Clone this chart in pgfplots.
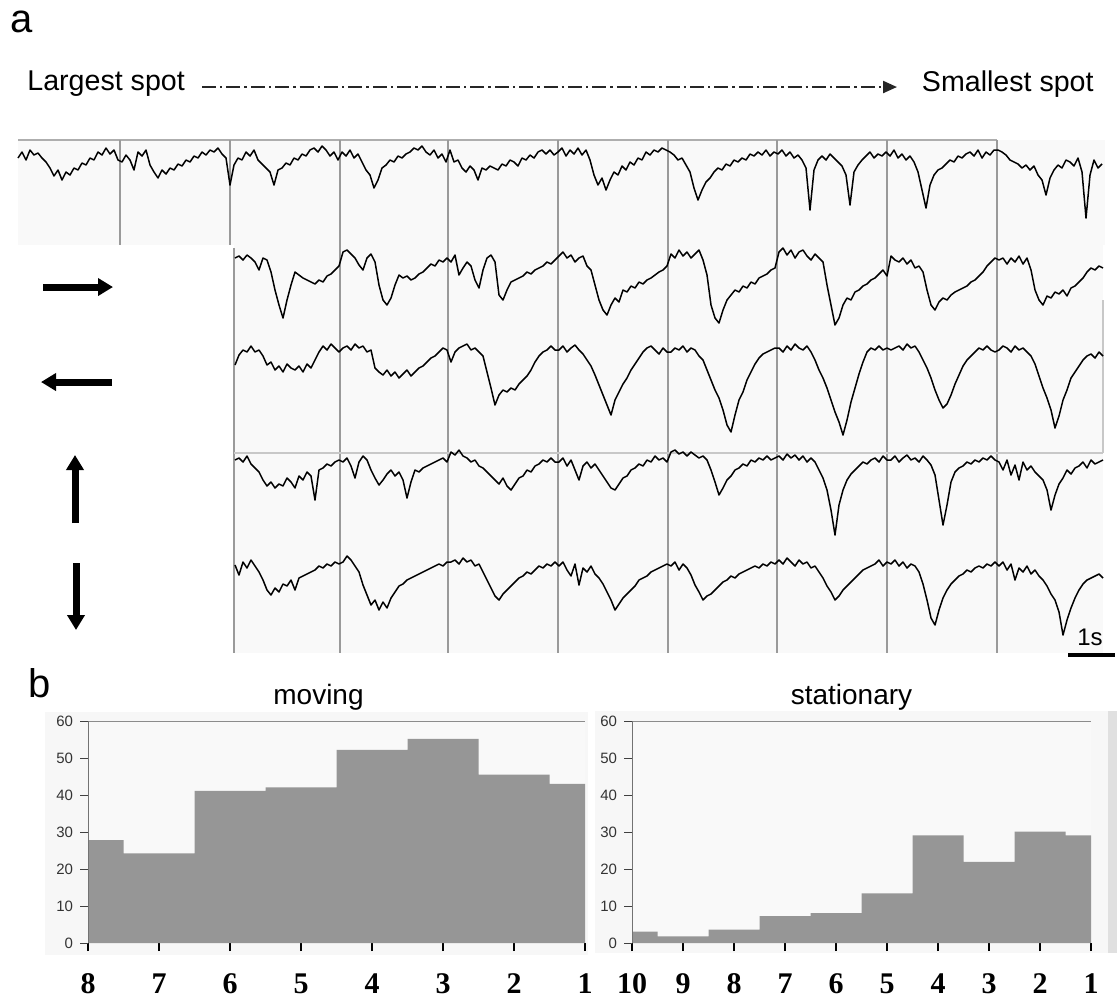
\documentclass[border=0pt]{standalone}
\usepackage{pgfplots}
\pgfplotsset{compat=1.18}
\usepackage{fontspec}
\setmainfont{Liberation Sans}
\newfontfamily\timesfont{Liberation Serif}
\usetikzlibrary{arrows.meta}

\definecolor{panelbg}{HTML}{F9F9F9}
\definecolor{gridgrey}{HTML}{9A9A9A}
\definecolor{lightline}{HTML}{C8C8C8}
\definecolor{barfill}{HTML}{969696}
\definecolor{boxbg}{HTML}{F7F7F7}

\pgfplotsset{
  trace/.style={black, line width=0.75pt, mark=none, line join=round},
  hist/.style={
    scale only axis, height=111pt, ymin=0, ymax=60,
    ytick={0,10,...,60},
    axis background/.style={fill=panelbg},
    axis line style={draw=none},
    tick align=outside, xtick pos=bottom, ytick pos=left,
    major tick length=4pt,
    ytick style={draw=black!75, line width=0.5pt},
    xtick style={draw=black, line width=0.7pt},
    yticklabel style={font=\fontsize{7.5}{8}\selectfont, text=black!80},
    /pgf/number format/assume math mode=true,
    xticklabel style={font=\timesfont\bfseries\fontsize{15}{15}\selectfont, inner sep=0pt, anchor=north, yshift=-11pt},
    title style={font=\fontsize{14}{16}\selectfont, yshift=-4pt},
  },
}

\begin{document}
\begin{tikzpicture}
\useasboundingbox (0,0) rectangle (558.5pt,-501pt);

% ---------- panel a: response traces (pixel grid, y downwards) ----------
\begin{axis}[at={(0,0)}, anchor=north west, scale only axis,
  width=558.5pt, height=501pt, xmin=0, xmax=1117, ymin=0, ymax=1002,
  y dir=reverse, hide axis, clip=false]

% panel backgrounds and separators
\fill[panelbg] (18,140) rectangle (1105,245);
\fill[panelbg] (234,245) rectangle (1103,653);
\fill[boxbg] (45,712) rectangle (588,955);
\fill[boxbg] (595,711) rectangle (1108,953);
\fill[black!12] (1108,711) rectangle (1117,953);
\draw[gridgrey!80, line width=0.6pt] (18,140) -- (997,140);
\draw[gridgrey, line width=0.75pt] (120,140) -- (120,245);
\draw[gridgrey, line width=0.75pt] (230,140) -- (230,245);
\draw[gridgrey, line width=0.75pt] (340,140) -- (340,653);
\draw[gridgrey, line width=0.75pt] (448,140) -- (448,653);
\draw[gridgrey, line width=0.75pt] (558,140) -- (558,653);
\draw[gridgrey, line width=0.75pt] (668,140) -- (668,653);
\draw[gridgrey, line width=0.75pt] (777,140) -- (777,653);
\draw[gridgrey, line width=0.75pt] (887,140) -- (887,653);
\draw[gridgrey, line width=0.75pt] (997,140) -- (997,653);
\draw[gridgrey, line width=0.6pt] (234,248) -- (234,653);
\draw[lightline, line width=0.6pt] (234,453) -- (1103,453);
\draw[lightline, line width=0.6pt] (1103,300) -- (1103,453);

% row 1: spot size series, largest to smallest
\addplot[trace] table[row sep=\\, x expr=18+4*\coordindex, y index=0] {y\\
158\\ 152\\ 160\\ 150\\ 155\\ 153\\ 158\\ 162\\ 168\\ 176\\ 170\\ 180\\ 172\\ 175\\ 168\\ 170\\ 163\\ 165\\ 158\\ 160\\ 152\\ 155\\ 148\\ 154\\ 150\\ 160\\
162\\ 155\\ 160\\ 170\\ 152\\ 156\\ 150\\ 165\\ 172\\ 178\\ 170\\ 174\\ 168\\ 170\\ 164\\ 166\\ 160\\ 162\\ 156\\ 158\\ 152\\ 155\\ 150\\ 152\\ 148\\ 154\\ 158\\
185\\ 165\\ 158\\ 160\\ 152\\ 156\\ 150\\ 160\\ 164\\ 168\\ 172\\ 185\\ 170\\ 168\\ 163\\ 165\\ 158\\ 160\\ 154\\ 156\\ 150\\ 148\\ 152\\ 146\\ 150\\ 156\\ 152\\ 160\\
152\\ 156\\ 150\\ 158\\ 154\\ 162\\ 170\\ 175\\ 188\\ 180\\ 168\\ 165\\ 160\\ 162\\ 156\\ 158\\ 154\\ 152\\ 148\\ 150\\ 146\\ 152\\ 155\\ 150\\ 158\\ 154\\ 162\\
150\\ 162\\ 160\\ 168\\ 172\\ 166\\ 170\\ 180\\ 168\\ 170\\ 166\\ 168\\ 170\\ 164\\ 166\\ 160\\ 162\\ 166\\ 158\\ 160\\ 155\\ 158\\ 152\\ 150\\ 154\\ 150\\ 155\\
152\\ 148\\ 156\\ 150\\ 154\\ 148\\ 155\\ 150\\ 160\\ 175\\ 185\\ 178\\ 190\\ 180\\ 172\\ 175\\ 166\\ 170\\ 162\\ 165\\ 158\\ 160\\ 152\\ 155\\ 150\\ 152\\ 148\\ 150\\
152\\ 155\\ 160\\ 158\\ 165\\ 172\\ 188\\ 200\\ 190\\ 182\\ 178\\ 172\\ 168\\ 170\\ 164\\ 166\\ 160\\ 162\\ 158\\ 160\\ 154\\ 156\\ 152\\ 155\\ 150\\ 156\\ 152\\
154\\ 150\\ 156\\ 152\\ 158\\ 155\\ 160\\ 168\\ 210\\ 170\\ 160\\ 156\\ 160\\ 154\\ 158\\ 162\\ 166\\ 175\\ 205\\ 172\\ 165\\ 160\\ 156\\ 152\\ 158\\ 154\\ 156\\ 152\\
156\\ 150\\ 158\\ 154\\ 160\\ 156\\ 162\\ 172\\ 190\\ 208\\ 185\\ 175\\ 170\\ 168\\ 164\\ 160\\ 162\\ 156\\ 158\\ 154\\ 152\\ 156\\ 150\\ 158\\ 152\\ 155\\ 150\\
150\\ 152\\ 155\\ 160\\ 162\\ 164\\ 168\\ 165\\ 170\\ 166\\ 175\\ 180\\ 195\\ 178\\ 170\\ 165\\ 168\\ 160\\ 162\\ 166\\ 158\\ 172\\ 218\\ 175\\ 160\\ 168\\ 164\\
};

% row 2: rightward motion
\addplot[trace] table[row sep=\\, x expr=235+4*\coordindex, y index=0] {y\\
258\\ 256\\ 260\\ 255\\ 258\\ 262\\ 270\\ 258\\ 260\\ 272\\ 290\\ 305\\ 318\\ 300\\ 285\\ 272\\ 275\\ 278\\ 280\\ 282\\ 284\\ 280\\ 282\\ 276\\ 274\\ 270\\ 266\\
252\\ 250\\ 254\\ 258\\ 265\\ 270\\ 258\\ 254\\ 262\\ 285\\ 300\\ 305\\ 298\\ 285\\ 275\\ 278\\ 276\\ 280\\ 278\\ 274\\ 272\\ 268\\ 264\\ 266\\ 260\\ 262\\ 258\\
262\\ 255\\ 275\\ 268\\ 262\\ 266\\ 280\\ 288\\ 270\\ 258\\ 255\\ 262\\ 295\\ 300\\ 290\\ 282\\ 280\\ 278\\ 276\\ 272\\ 274\\ 270\\ 268\\ 266\\ 262\\ 264\\ 260\\
256\\ 252\\ 258\\ 255\\ 262\\ 258\\ 256\\ 266\\ 270\\ 285\\ 300\\ 310\\ 315\\ 305\\ 298\\ 302\\ 290\\ 292\\ 286\\ 288\\ 282\\ 284\\ 280\\ 278\\ 275\\ 272\\ 270\\ 266\\
254\\ 258\\ 250\\ 256\\ 252\\ 258\\ 254\\ 250\\ 260\\ 275\\ 305\\ 318\\ 323\\ 310\\ 300\\ 295\\ 290\\ 292\\ 286\\ 288\\ 282\\ 284\\ 278\\ 276\\ 274\\ 270\\ 268\\
252\\ 248\\ 255\\ 250\\ 258\\ 252\\ 250\\ 256\\ 260\\ 254\\ 258\\ 262\\ 285\\ 305\\ 325\\ 318\\ 305\\ 298\\ 300\\ 292\\ 290\\ 286\\ 284\\ 280\\ 278\\ 274\\ 270\\ 276\\
256\\ 260\\ 262\\ 258\\ 264\\ 260\\ 268\\ 266\\ 272\\ 290\\ 305\\ 310\\ 302\\ 298\\ 300\\ 295\\ 292\\ 290\\ 288\\ 286\\ 282\\ 280\\ 276\\ 272\\ 266\\ 262\\ 258\\
260\\ 258\\ 264\\ 258\\ 262\\ 256\\ 264\\ 258\\ 270\\ 290\\ 300\\ 305\\ 296\\ 298\\ 292\\ 294\\ 290\\ 296\\ 288\\ 286\\ 282\\ 278\\ 272\\ 268\\ 270\\ 266\\ 268\\
};

% row 3: leftward motion
\addplot[trace] table[row sep=\\, x expr=235+4*\coordindex, y index=0] {y\\
365\\ 355\\ 350\\ 352\\ 346\\ 352\\ 350\\ 356\\ 365\\ 362\\ 370\\ 366\\ 372\\ 364\\ 368\\ 370\\ 366\\ 372\\ 364\\ 368\\ 360\\ 352\\ 346\\ 350\\ 344\\ 348\\ 352\\
348\\ 346\\ 350\\ 344\\ 348\\ 346\\ 352\\ 350\\ 368\\ 372\\ 375\\ 370\\ 376\\ 372\\ 378\\ 374\\ 370\\ 376\\ 372\\ 368\\ 366\\ 362\\ 358\\ 356\\ 352\\ 348\\ 350\\
362\\ 352\\ 348\\ 346\\ 344\\ 350\\ 348\\ 352\\ 356\\ 372\\ 388\\ 405\\ 395\\ 390\\ 392\\ 388\\ 390\\ 384\\ 380\\ 376\\ 370\\ 362\\ 356\\ 352\\ 350\\ 346\\ 350\\
350\\ 346\\ 352\\ 348\\ 345\\ 350\\ 354\\ 360\\ 366\\ 375\\ 385\\ 395\\ 405\\ 415\\ 400\\ 392\\ 384\\ 378\\ 370\\ 364\\ 358\\ 352\\ 348\\ 346\\ 350\\ 354\\ 348\\ 352\\
352\\ 348\\ 350\\ 346\\ 352\\ 348\\ 350\\ 356\\ 360\\ 370\\ 380\\ 390\\ 398\\ 410\\ 425\\ 432\\ 415\\ 400\\ 392\\ 380\\ 372\\ 364\\ 358\\ 354\\ 352\\ 350\\ 348\\
348\\ 352\\ 346\\ 350\\ 344\\ 348\\ 350\\ 346\\ 352\\ 360\\ 370\\ 378\\ 388\\ 400\\ 412\\ 422\\ 435\\ 420\\ 402\\ 388\\ 374\\ 362\\ 352\\ 348\\ 350\\ 346\\ 350\\ 348\\
350\\ 348\\ 346\\ 350\\ 344\\ 348\\ 346\\ 352\\ 360\\ 368\\ 378\\ 390\\ 400\\ 408\\ 404\\ 395\\ 384\\ 375\\ 366\\ 360\\ 356\\ 352\\ 348\\ 350\\ 346\\ 350\\ 352\\
350\\ 346\\ 348\\ 352\\ 346\\ 350\\ 348\\ 352\\ 356\\ 364\\ 376\\ 388\\ 398\\ 410\\ 428\\ 416\\ 400\\ 390\\ 378\\ 372\\ 366\\ 360\\ 356\\ 354\\ 358\\ 352\\ 356\\
};

% row 4: upward motion
\addplot[trace] table[row sep=\\, x expr=235+4*\coordindex, y index=0] {y\\
460\\ 458\\ 462\\ 456\\ 464\\ 468\\ 472\\ 480\\ 486\\ 482\\ 488\\ 484\\ 486\\ 478\\ 482\\ 488\\ 476\\ 480\\ 472\\ 476\\ 500\\ 470\\ 468\\ 464\\ 466\\ 462\\ 460\\
462\\ 458\\ 466\\ 478\\ 462\\ 456\\ 460\\ 470\\ 478\\ 485\\ 480\\ 474\\ 470\\ 476\\ 472\\ 480\\ 498\\ 482\\ 470\\ 472\\ 468\\ 466\\ 464\\ 462\\ 460\\ 458\\ 462\\
452\\ 455\\ 450\\ 456\\ 458\\ 462\\ 460\\ 466\\ 468\\ 472\\ 476\\ 480\\ 484\\ 478\\ 486\\ 490\\ 484\\ 478\\ 476\\ 470\\ 472\\ 466\\ 464\\ 460\\ 462\\ 458\\ 462\\
462\\ 458\\ 466\\ 460\\ 470\\ 480\\ 466\\ 462\\ 468\\ 464\\ 470\\ 476\\ 482\\ 488\\ 490\\ 484\\ 478\\ 476\\ 470\\ 468\\ 464\\ 466\\ 460\\ 462\\ 456\\ 460\\ 458\\ 462\\
452\\ 450\\ 454\\ 452\\ 456\\ 452\\ 455\\ 458\\ 456\\ 460\\ 470\\ 482\\ 495\\ 488\\ 480\\ 476\\ 470\\ 468\\ 464\\ 466\\ 460\\ 462\\ 458\\ 460\\ 456\\ 460\\ 458\\
456\\ 460\\ 454\\ 458\\ 455\\ 460\\ 456\\ 462\\ 458\\ 462\\ 470\\ 478\\ 490\\ 510\\ 535\\ 505\\ 490\\ 480\\ 474\\ 470\\ 466\\ 462\\ 464\\ 460\\ 458\\ 462\\ 456\\ 460\\
460\\ 456\\ 462\\ 458\\ 455\\ 460\\ 458\\ 462\\ 456\\ 460\\ 465\\ 475\\ 500\\ 525\\ 505\\ 482\\ 472\\ 468\\ 466\\ 462\\ 464\\ 460\\ 462\\ 458\\ 460\\ 456\\ 460\\
462\\ 470\\ 460\\ 475\\ 465\\ 480\\ 462\\ 470\\ 466\\ 472\\ 476\\ 480\\ 490\\ 510\\ 495\\ 484\\ 478\\ 470\\ 474\\ 468\\ 466\\ 462\\ 468\\ 460\\ 464\\ 462\\ 460\\
};

% row 5: downward motion
\addplot[trace] table[row sep=\\, x expr=235+4*\coordindex, y index=0] {y\\
565\\ 575\\ 562\\ 568\\ 560\\ 566\\ 572\\ 580\\ 590\\ 595\\ 588\\ 592\\ 584\\ 586\\ 580\\ 590\\ 578\\ 576\\ 574\\ 572\\ 570\\ 566\\ 568\\ 564\\ 566\\ 562\\ 564\\
562\\ 556\\ 560\\ 566\\ 572\\ 585\\ 595\\ 605\\ 600\\ 610\\ 602\\ 608\\ 598\\ 592\\ 586\\ 584\\ 580\\ 578\\ 576\\ 574\\ 572\\ 570\\ 568\\ 566\\ 564\\ 566\\ 562\\
562\\ 560\\ 564\\ 558\\ 562\\ 560\\ 566\\ 564\\ 572\\ 580\\ 588\\ 596\\ 600\\ 594\\ 590\\ 586\\ 582\\ 578\\ 576\\ 572\\ 574\\ 570\\ 566\\ 568\\ 564\\ 566\\ 562\\
566\\ 562\\ 570\\ 576\\ 564\\ 585\\ 568\\ 572\\ 566\\ 574\\ 578\\ 584\\ 592\\ 600\\ 610\\ 604\\ 598\\ 594\\ 590\\ 586\\ 580\\ 578\\ 576\\ 572\\ 570\\ 568\\ 566\\ 564\\
566\\ 562\\ 570\\ 564\\ 568\\ 575\\ 585\\ 592\\ 600\\ 596\\ 594\\ 590\\ 586\\ 582\\ 580\\ 576\\ 578\\ 574\\ 572\\ 570\\ 568\\ 566\\ 568\\ 564\\ 566\\ 562\\ 564\\
560\\ 564\\ 558\\ 562\\ 566\\ 560\\ 564\\ 562\\ 568\\ 566\\ 572\\ 578\\ 586\\ 592\\ 600\\ 596\\ 590\\ 586\\ 582\\ 578\\ 574\\ 570\\ 568\\ 566\\ 564\\ 560\\ 566\\ 562\\
564\\ 560\\ 566\\ 562\\ 568\\ 564\\ 566\\ 572\\ 584\\ 600\\ 618\\ 625\\ 610\\ 598\\ 590\\ 584\\ 580\\ 576\\ 574\\ 570\\ 572\\ 568\\ 566\\ 568\\ 564\\ 566\\ 562\\
566\\ 562\\ 570\\ 564\\ 580\\ 568\\ 572\\ 566\\ 574\\ 570\\ 576\\ 580\\ 586\\ 594\\ 600\\ 612\\ 635\\ 620\\ 608\\ 598\\ 590\\ 584\\ 580\\ 578\\ 576\\ 574\\ 578\\
};

% labels, direction arrows and scale bar
\node[font=\fontsize{20}{22}\selectfont, inner sep=0pt] at (22,22) {a};
\node[font=\fontsize{14.3}{16}\selectfont, anchor=west, inner sep=0pt] at (27,84) {Largest spot};
\node[font=\fontsize{14.3}{16}\selectfont, anchor=east, inner sep=0pt] at (1094,84) {Smallest spot};
\draw[black!85, line width=1.1pt, dash pattern=on 7pt off 2pt on 1.2pt off 2pt,
      -{Triangle[length=7pt, width=6pt]}] (202,87) -- (897,87);
\draw[line width=3.5pt, -{Triangle[length=7.5pt, width=8.5pt]}] (43,287) -- (113,287);
\draw[line width=3.5pt, -{Triangle[length=7.5pt, width=8.5pt]}] (112,382) -- (41,382);
\draw[line width=3.5pt, -{Triangle[length=7.5pt, width=8.5pt]}] (75,523) -- (75,455);
\draw[line width=3.5pt, -{Triangle[length=7.5pt, width=8.5pt]}] (76,563) -- (76,630);
\node[font=\fontsize{12}{14}\selectfont, inner sep=0pt] at (1090,637) {1s};
\draw[line width=1.6pt] (1068,655) -- (1115,655);
\node[font=\fontsize{20}{22}\selectfont, inner sep=0pt] at (40,683) {b};
\end{axis}

% ---------- panel b: moving spots ----------
\begin{axis}[hist, at={(44pt,-360.5pt)}, anchor=north west, width=248.5pt,
  xmin=0, xmax=7, xtick={0,...,7}, xticklabels={8,7,6,5,4,3,2,1},
  title={moving}, title style={xshift=-9pt}]
\addplot[ybar, bar width=1, fill=barfill, draw=none] coordinates
  {(0,27.8) (1,24.2) (2,41.1) (3,42.1) (4,52.2) (5,55.2) (6,45.5) (7,43.0)};
\draw[black!45, line width=0.7pt] (rel axis cs:0,1) -- (rel axis cs:1,1);
\draw[black!55, line width=1pt] (rel axis cs:0,0) -- (rel axis cs:0,1);
\end{axis}

% ---------- panel b: stationary spots ----------
\begin{axis}[hist, at={(316pt,-360.5pt)}, anchor=north west, width=229.5pt,
  xmin=0, xmax=9, xtick={0,...,9}, xticklabels={10,9,8,7,6,5,4,3,2,1},
  title={stationary}, title style={xshift=-5pt}]
\addplot[ybar, bar width=1, fill=barfill, draw=none] coordinates
  {(0,3.1) (1,1.8) (2,3.6) (3,7.3) (4,8.1) (5,13.4) (6,29.1) (7,21.9) (8,30.1) (9,29.1)};
\draw[black!45, line width=0.7pt] (rel axis cs:0,1) -- (rel axis cs:1,1);
\draw[black!55, line width=1pt] (rel axis cs:0,0) -- (rel axis cs:0,1);
\end{axis}
\end{tikzpicture}
\end{document}
